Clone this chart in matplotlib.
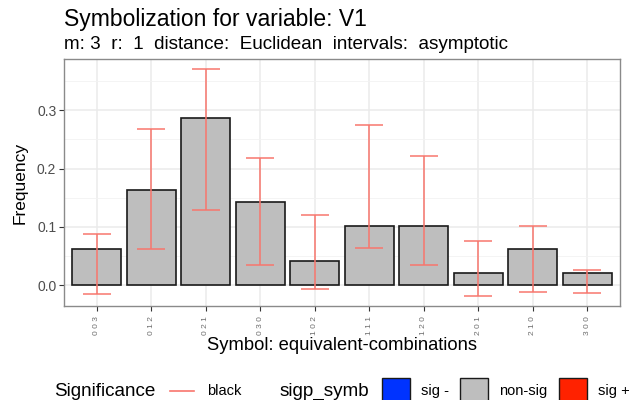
import matplotlib
matplotlib.use("Agg")
import matplotlib.pyplot as plt
from matplotlib.patches import Rectangle
from matplotlib.lines import Line2D
import numpy as np

symbols = ["003", "012", "021", "030", "102", "111", "120", "201", "210", "300"]
frequency = [0.061, 0.163, 0.286, 0.143, 0.041, 0.102, 0.102, 0.020, 0.061, 0.020]
upper = [0.088, 0.267, 0.370, 0.218, 0.121, 0.274, 0.221, 0.076, 0.101, 0.026]
lower = [-0.015, 0.061, 0.128, 0.034, -0.007, 0.064, 0.035, -0.018, -0.012, -0.014]
yticks = [0.0, 0.1, 0.2, 0.3]

plt.rcParams["font.family"] = ["Liberation Sans", "DejaVu Sans"]

W, H = 629, 400
fig = plt.figure(figsize=(W / 100, H / 100), dpi=100)
ax = fig.add_axes([64 / W, 1 - 306 / H, (620 - 64) / W, (306 - 59) / H])

x = np.arange(len(symbols))
ax.bar(x, frequency, width=0.9, color="#BEBEBE", edgecolor="#1a1a1a",
       linewidth=1.2, zorder=3)

err_color = "#F8766D"
mid = [(u + l) / 2 for u, l in zip(upper, lower)]
half = [(u - l) / 2 for u, l in zip(upper, lower)]
ax.errorbar(x, mid, yerr=half, fmt="none", ecolor=err_color, elinewidth=1.1,
            capsize=9.8, capthick=1.1, zorder=4)

ax.set_xlim(-0.6, len(symbols) - 0.4)
ax.set_ylim(-0.036, 0.388)
ax.set_yticks(yticks)
ax.set_yticklabels([f"{v:.1f}" for v in yticks])
ax.set_yticks([0.05, 0.15, 0.25, 0.35], minor=True)
ax.set_xticks(x)
ax.set_xticklabels([" ".join(s) for s in symbols], rotation=90, fontsize=6,
                   color="#6e6e6e")
ax.tick_params(axis="y", labelsize=10, labelcolor="#4D4D4D", length=3.5,
               color="#333333", width=0.8, pad=2)
ax.tick_params(axis="x", length=3.5, color="#333333", width=0.8, pad=4)
ax.tick_params(which="minor", length=0)

ax.grid(True, which="major", color="#EBEBEB", linewidth=1.1, zorder=0)
ax.grid(True, which="minor", axis="y", color="#F2F2F2", linewidth=0.6, zorder=0)
ax.set_axisbelow(True)
for sp in ax.spines.values():
    sp.set_color("#8a8a8a")
    sp.set_linewidth(1.0)

ax.set_ylabel("Frequency", fontsize=12.5)
ax.yaxis.set_label_coords(-(64 - 20) / (620 - 64), 0.5)
ax.set_xlabel("Symbol: equivalent-combinations", fontsize=13.2)
ax.xaxis.set_label_coords(0.5, -(345 - 306) / (306 - 59))
ax.xaxis.label.set_va("center")
ax.yaxis.label.set_va("center")

fig.text(64 / W, 1 - 26 / H, "Symbolization for variable: V1", fontsize=16.5,
         va="baseline", ha="left")
fig.text(64 / W, 1 - 49 / H,
         "m: 3  r:  1  distance:  Euclidean  intervals:  asymptotic",
         fontsize=13.6, va="baseline", ha="left")

# legend drawn at the bottom
ly = 1 - 391 / H
fig.text(54 / W, ly, "Significance", fontsize=13.6, va="center", ha="left")
fig.add_artist(Line2D([170 / W, 194 / W], [ly, ly], color=err_color,
                      linewidth=1.2, transform=fig.transFigure))
fig.text(207 / W, ly, "black", fontsize=10.5, va="center", ha="left")
fig.text(280 / W, ly, "sigp_symb", fontsize=13.6, va="center", ha="left")
legend_fills = ["#0033FF", "#BEBEBE", "#FF2200"]
legend_labels = ["sig -", "non-sig", "sig +"]
box_x = [382, 460, 559]
for bx, fc, lab in zip(box_x, legend_fills, legend_labels):
    fig.add_artist(Rectangle((bx / W, 1 - 406 / H), 28 / W, 28 / H,
                             facecolor=fc, edgecolor="#1a1a1a", linewidth=1.0,
                             transform=fig.transFigure))
    fig.text((bx + 39) / W, ly, lab, fontsize=10.5, va="center", ha="left")

fig.savefig("out.png", dpi=100)
